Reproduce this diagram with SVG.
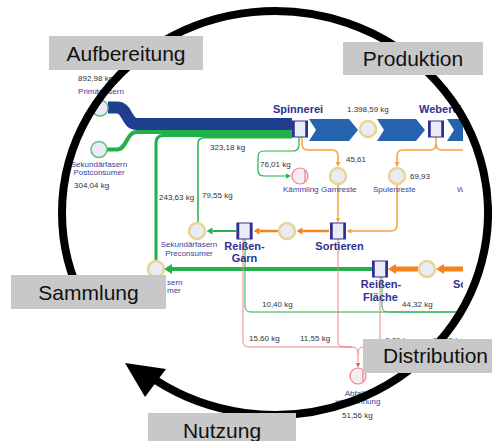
<svg xmlns="http://www.w3.org/2000/svg" width="492" height="441" viewBox="0 0 492 441">
<style>
.pbox{fill:#c8c8c8}
.big{font-family:"Liberation Sans",Arial,sans-serif;font-size:21px;fill:#111}
.nd{font-family:"Liberation Sans",Arial,sans-serif;font-size:11px;font-weight:bold;fill:#2e3192}
.nm{font-family:"Liberation Sans",Arial,sans-serif;font-size:8px;fill:#3d3d9e}
.v{font-family:"Liberation Sans",Arial,sans-serif;font-size:8px;fill:#333}
.c{fill:#ebebf5;stroke:#e6d690;stroke-width:2.5}
.cg{fill:#ebebf5;stroke:#5cbf7e;stroke-width:1.5}
.cr{fill:#f4eef4;stroke:#f08080;stroke-width:1.2}
.bx{fill:#ebebf7;stroke:#2e3192;stroke-width:1}
.bs{stroke:#2e3192;stroke-width:2.5}
.o{fill:none;stroke:#f7a23c}
.ot{fill:none;stroke:#f5821f}
.g{fill:none;stroke:#22b04b}
.r{fill:none;stroke:#f08080;stroke-width:1}
.chev{fill:#2563ae}
</style>
<defs>
<clipPath id="clipS"><rect x="0" y="0" width="463" height="441"/></clipPath>
<marker id="aos" markerUnits="userSpaceOnUse" markerWidth="5" markerHeight="5" refX="0" refY="2.5" orient="auto"><path d="M0,0L5,2.5L0,5z" fill="#f7a23c"/></marker>
<marker id="aom" markerUnits="userSpaceOnUse" markerWidth="6" markerHeight="7" refX="0" refY="3.5" orient="auto"><path d="M0,0L6,3.5L0,7z" fill="#f5821f"/></marker>
<marker id="aob" markerUnits="userSpaceOnUse" markerWidth="8" markerHeight="10" refX="0" refY="5" orient="auto"><path d="M0,0L8,5L0,10z" fill="#f5821f"/></marker>
<marker id="ags" markerUnits="userSpaceOnUse" markerWidth="5" markerHeight="5" refX="0" refY="2.5" orient="auto"><path d="M0,0L5,2.5L0,5z" fill="#22b04b"/></marker>
<marker id="agm" markerUnits="userSpaceOnUse" markerWidth="6" markerHeight="7" refX="0" refY="3.5" orient="auto"><path d="M0,0L6,3.5L0,7z" fill="#22b04b"/></marker>
<marker id="agb" markerUnits="userSpaceOnUse" markerWidth="8" markerHeight="10" refX="0" refY="5" orient="auto"><path d="M0,0L8,5L0,10z" fill="#22b04b"/></marker>
<marker id="ars" markerUnits="userSpaceOnUse" markerWidth="5" markerHeight="5" refX="0" refY="2.5" orient="auto"><path d="M0,0L5,2.5L0,5z" fill="#ee5a5a"/></marker>
</defs>
<rect width="492" height="441" fill="#fff"/>
<g id="sankey" clip-path="url(#clipS)">
<g id="connectors">
<path d="M108,107.5H117C128,107.5 126,124 137,124H292" fill="none" stroke="#1f3e8e" stroke-width="12"/>
<path class="g" d="M107,149.5H117C127,149.5 126,132 137,132H292" stroke="#139a44" stroke-width="4"/>
<path class="g" d="M156,261V143Q156,135.5 163,135.5H292" stroke-width="3"/>
<path class="g" d="M198,223V144Q198,137.75 204,137.75H292" stroke-width="1.5"/>
<polygon class="chev" points="309,119 349,119 358,130 349,141 309,141 316,130"/>
<polygon class="chev" points="377,119 416,119 425,130 416,141 377,141 384,130"/>
<polygon class="chev" points="447,119 486,119 495,130 486,141 447,141 454,130"/>
<path class="g" d="M299,137V145Q299,151 293,151H264Q258,151 258,157V170Q258,176 264,176H286" stroke-width="1.2" marker-end="url(#ags)"/>
<path class="o" d="M302,137V144Q302,150 308,150H332Q338,150 338,156V162" stroke-width="1.5" marker-end="url(#aos)"/>
<path class="o" d="M436,137V144Q436,150 430,150H403Q397,150 397,156V162" stroke-width="1.5" marker-end="url(#aos)"/>
<path class="o" d="M436,144Q436,150 442,150H470" stroke-width="1.5"/>
<path class="o" d="M338,184V217.5" stroke-width="1.5" marker-end="url(#aos)"/>
<path class="o" d="M397,184V225Q397,231 391,231H351.5" stroke-width="1.5" marker-end="url(#aos)"/>
<path class="ot" d="M329,231H302.5" stroke-width="2.5" marker-end="url(#aom)"/>
<path class="ot" d="M279,231H259.5" stroke-width="2.5" marker-end="url(#aom)"/>
<path class="g" d="M236,231H212.5" stroke-width="2" marker-end="url(#agm)"/>
<path class="g" d="M245,239V306Q245,312 251,312H470" stroke-width="1"/>
<path class="g" d="M382,277V306Q382,312 388,312H470" stroke-width="1"/>
<path class="g" d="M372,269H172" stroke-width="4" marker-end="url(#agb)"/>
<path class="ot" d="M470,269H444" stroke-width="5" marker-end="url(#aob)"/>
<path class="ot" d="M418,269H396" stroke-width="5" marker-end="url(#aob)"/>
<path class="r" d="M243,239V341Q243,347 249,347H352Q358,347 358,353V362.5" marker-end="url(#ars)"/>
<path class="r" d="M338,239V341Q338,347 344,347H352"/>
<path class="r" d="M380,277V341Q380,347 374,347H364Q358,347 358,353"/>
<g id="flow-values">
<text class="v" x="78" y="81">892,98 kg</text>
<text class="v" x="74" y="188">304,04 kg</text>
<text class="v" x="210" y="150">323,18 kg</text>
<text class="v" x="159" y="200">243,63 kg</text>
<text class="v" x="202" y="198">79,55 kg</text>
<text class="v" x="347" y="112">1.398,59 kg</text>
<text class="v" x="260" y="167">76,01 kg</text>
<text class="v" x="346" y="162">45,61</text>
<text class="v" x="410" y="179">69,93</text>
<text class="v" x="262" y="307">10,40 kg</text>
<text class="v" x="402" y="307">44,32 kg</text>
<text class="v" x="249" y="341">15,60 kg</text>
<text class="v" x="300" y="341">11,55 kg</text>
<text class="v" x="385" y="343">8,86 kg</text>
<text class="v" x="433" y="343">15,55 kg</text>
<text class="v" x="342" y="418">51,56 kg</text>
</g>
</g>
<g id="n-primaer">
<circle class="cg" cx="100" cy="108" r="8"/>
<text class="nm" x="101" y="94" text-anchor="middle">Primärfasern</text>
</g>
<g id="n-sek-post">
<circle class="cg" cx="99" cy="149.5" r="8"/>
<text class="nm" x="99" y="167" text-anchor="middle">Sekundärfasern</text>
<text class="nm" x="99" y="175" text-anchor="middle">Postconsumer</text>
</g>
<g id="n-spinnerei">
<rect class="bx" x="292.5" y="121" width="15" height="16"/>
<path class="bs" d="M293.5,121V137M306.5,121V137"/>
<text class="nd" x="273" y="113">Spinnerei</text>
</g>
<g id="n-garn">
<circle class="c" cx="368" cy="129" r="8"/>
</g>
<g id="n-weberei">
<rect class="bx" x="428.5" y="121" width="15" height="16"/>
<path class="bs" d="M429.5,121V137M442.5,121V137"/>
<text class="nd" x="419" y="113">Weberei</text>
</g>
<g id="n-kaemmling">
<circle class="cr" cx="300" cy="176" r="8"/>
<path d="M305,170V182" stroke="#f08080" stroke-width="1.2"/>
<text class="nm" x="283" y="192">Kämmling</text>
</g>
<g id="n-garnreste">
<circle class="c" cx="338" cy="176" r="8"/>
<text class="nm" x="321" y="192">Garnreste</text>
</g>
<g id="n-spulenreste">
<circle class="c" cx="397" cy="176" r="8"/>
<text class="nm" x="373" y="192">Spulenreste</text>
</g>
<g id="n-w">
<text class="nm" x="457" y="192">W</text>
</g>
<g id="n-sortieren">
<rect class="bx" x="330.5" y="223" width="15" height="16"/>
<path class="bs" d="M331.5,223V239M344.5,223V239"/>
<text class="nd" x="339.5" y="250" text-anchor="middle">Sortieren</text>
</g>
<g id="n-zwischen">
<circle class="c" cx="287" cy="231" r="8"/>
</g>
<g id="n-reissen-garn">
<rect class="bx" x="237" y="223" width="15" height="16"/>
<path class="bs" d="M238,223V239M251,223V239"/>
<text class="nd" x="244.5" y="250" text-anchor="middle">Reißen-</text>
<text class="nd" x="244.5" y="262" text-anchor="middle">Garn</text>
</g>
<g id="n-sek-pre">
<circle class="c" cx="197" cy="231" r="8"/>
<text class="nm" x="189" y="247" text-anchor="middle">Sekundärfasern</text>
<text class="nm" x="189" y="256" text-anchor="middle">Preconsumer</text>
</g>
<g id="n-sek-post2">
<circle class="c" cx="156" cy="269" r="8"/>
<text class="nm" x="167" y="285">sern</text>
<text class="nm" x="167" y="293">mer</text>
</g>
<g id="n-reissen-flaeche">
<rect class="bx" x="372.5" y="261" width="15" height="16"/>
<path class="bs" d="M373.5,261V277M386.5,261V277"/>
<text class="nd" x="381" y="288" text-anchor="middle">Reißen-</text>
<text class="nd" x="380.5" y="301" text-anchor="middle">Fläche</text>
</g>
<g id="n-right">
<circle class="c" cx="427" cy="269" r="8"/>
<text class="nd" x="453" y="288">So</text>
</g>
<g id="n-abfall">
<circle class="cr" cx="358" cy="376" r="8"/>
<path d="M363,370V382" stroke="#f08080" stroke-width="1.2"/>
<text class="nm" x="356" y="396" text-anchor="middle">Abfall-</text>
<text class="nm" x="358" y="404" text-anchor="middle">verbrennung</text>
</g>
</g>
<g id="cycle">
<path d="M155.89,380.47A213,202 0 1 0 83.56,301.55" fill="none" stroke="#000" stroke-width="8"/>
<polygon points="125,363 166,369 145,397" fill="#000"/>
</g>
<g id="phase-aufbereitung"><rect class="pbox" x="49" y="36" width="154" height="34"/><text class="big" x="126" y="60.5" text-anchor="middle">Aufbereitung</text></g>
<g id="phase-produktion"><rect class="pbox" x="343" y="42" width="140" height="33"/><text class="big" x="413" y="65.5" text-anchor="middle">Produktion</text></g>
<g id="phase-sammlung"><rect class="pbox" x="11" y="275" width="155" height="34"/><text class="big" x="88.5" y="300" text-anchor="middle">Sammlung</text></g>
<g id="phase-distribution"><rect class="pbox" x="363" y="339" width="135" height="34"/><text class="big" x="383" y="363">Distribution</text></g>
<g id="phase-nutzung"><rect class="pbox" x="148" y="413" width="148" height="34"/><text class="big" x="222" y="437.5" text-anchor="middle">Nutzung</text></g>
</svg>
